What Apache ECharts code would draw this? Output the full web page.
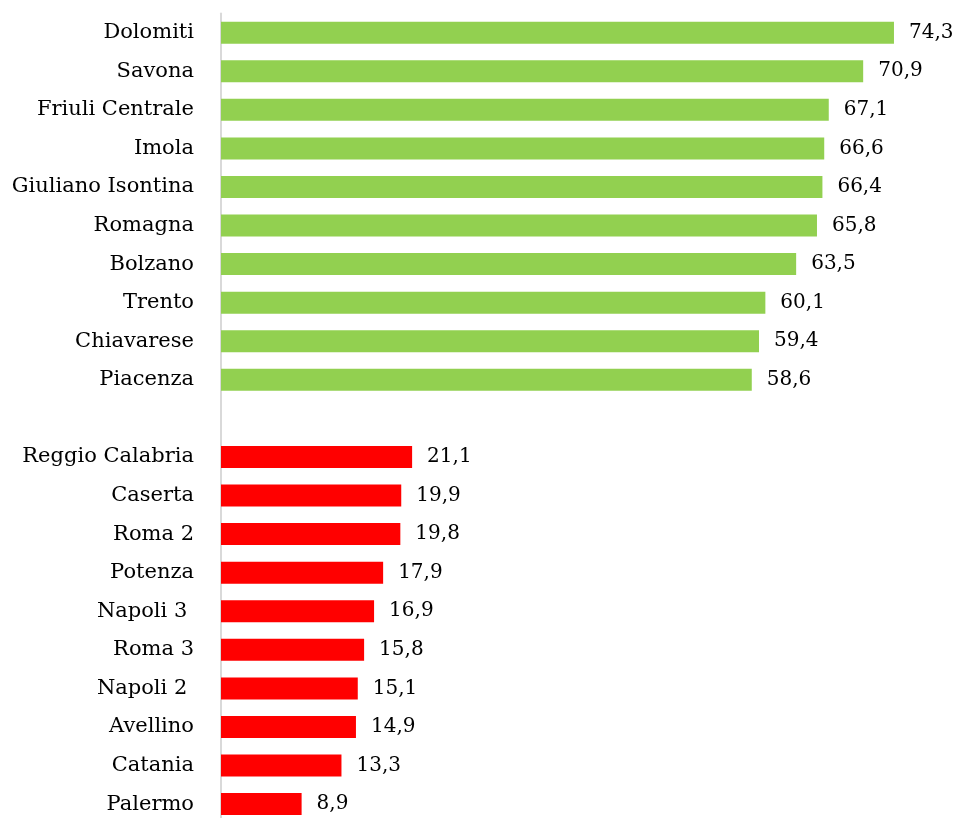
<!DOCTYPE html>
<html>
<head>
<meta charset="utf-8">
<script src="https://cdn.jsdelivr.net/npm/echarts@6/dist/echarts.min.js"></script>
<style>
  html, body { margin: 0; padding: 0; background: #ffffff; overflow: hidden; }
  #chart { width: 956px; height: 830px; }
</style>
</head>
<body>
<div id="chart"></div>
<script>
// Top ten areas (green) and bottom ten areas (red)
const topNames = ['Dolomiti', 'Savona', 'Friuli Centrale', 'Imola', 'Giuliano Isontina',
  'Romagna', 'Bolzano', 'Trento', 'Chiavarese', 'Piacenza'];
const topValues = [74.3, 70.9, 67.1, 66.6, 66.4, 65.8, 63.5, 60.1, 59.4, 58.6];

const bottomNames = ['Reggio Calabria', 'Caserta', 'Roma 2', 'Potenza', 'Napoli 3 ',
  'Roma 3', 'Napoli 2 ', 'Avellino', 'Catania', 'Palermo'];
const bottomValues = [21.1, 19.9, 19.8, 17.9, 16.9, 15.8, 15.1, 14.9, 13.3, 8.9];

const topColor = '#92D050';
const bottomColor = '#FF0000';

// One empty slot separates the two groups
const categories = topNames.concat([''], bottomNames);
const seriesData = []
  .concat(topValues.map(v => ({ value: v, itemStyle: { color: topColor } })))
  .concat([{ value: null }])
  .concat(bottomValues.map(v => ({ value: v, itemStyle: { color: bottomColor } })));

const chart = echarts.init(document.getElementById('chart'), null, { renderer: 'canvas' });
const font = '"DejaVu Serif", "Liberation Serif", serif';

chart.setOption({
  animation: false,
  backgroundColor: '#ffffff',
  grid: { left: 221, right: 10.4, top: 13.4, height: 810, containLabel: false },
  xAxis: {
    type: 'value',
    min: 0,
    max: 80,
    show: false
  },
  yAxis: {
    type: 'category',
    inverse: true,
    data: categories,
    axisLine: { show: true, lineStyle: { color: '#d9d9d9', width: 2 } },
    axisTick: { show: false },
    axisLabel: {
      color: '#000000',
      fontFamily: font,
      fontSize: 21,
      margin: 27,
      padding: [4, 0, 0, 0]
    }
  },
  series: [{
    type: 'bar',
    data: seriesData,
    barWidth: 22,
    label: {
      show: true,
      position: 'right',
      distance: 15,
      color: '#000000',
      fontFamily: font,
      fontSize: 20,
      padding: [5, 0, 0, 0],
      formatter: p => p.value == null ? '' : p.value.toFixed(1).replace('.', ',')
    }
  }]
});
</script>
</body>
</html>
